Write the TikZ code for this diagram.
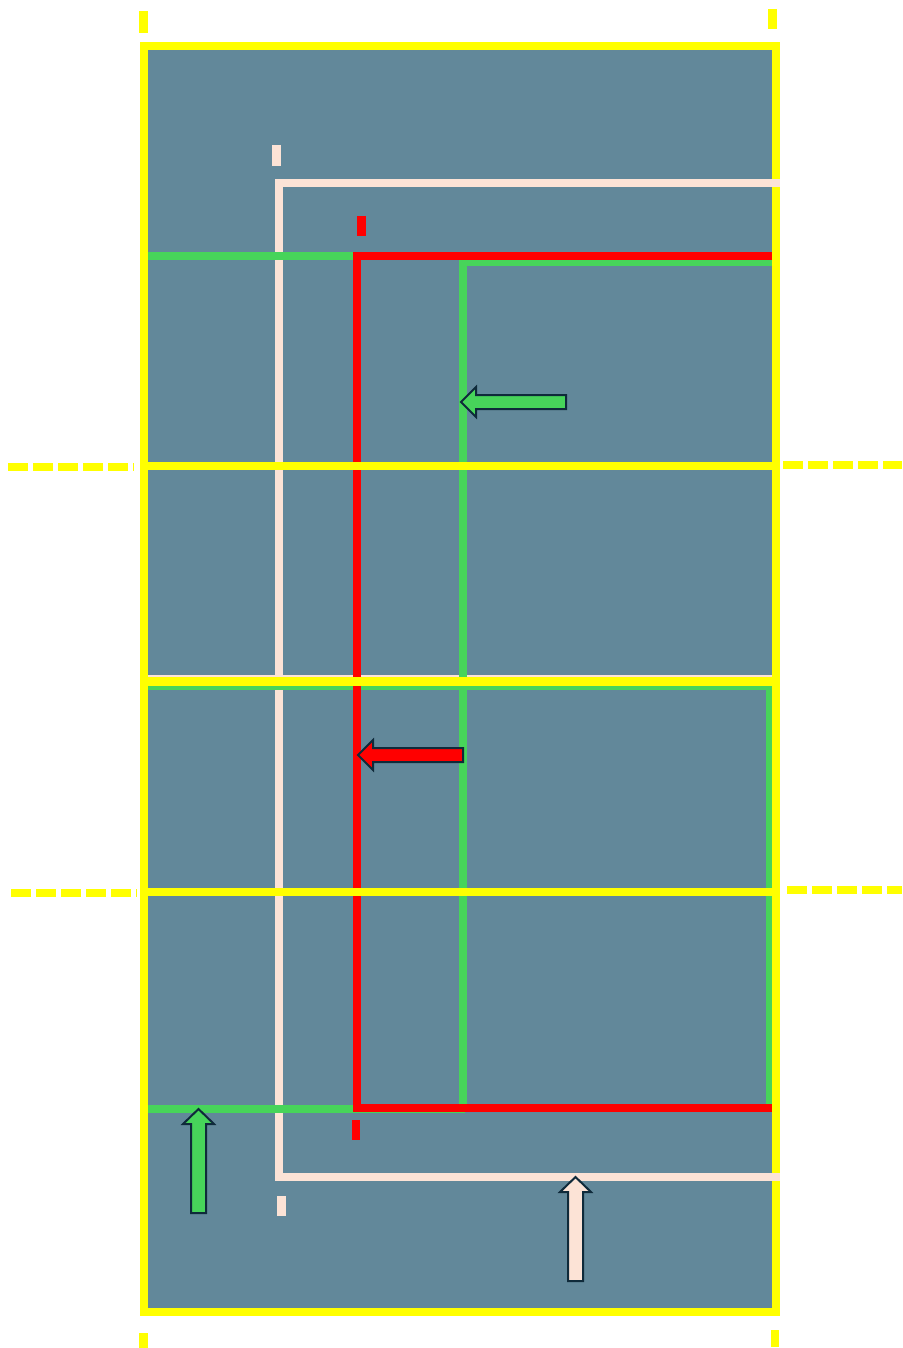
\documentclass[tikz,border=0pt]{standalone}
\definecolor{court}{HTML}{62889A}
\definecolor{lineyellow}{HTML}{FFFF00}
\definecolor{linegreen}{HTML}{47D45A}
\definecolor{linered}{HTML}{FF0000}
\definecolor{linepink}{HTML}{FCE3D6}
\definecolor{arrowedge}{HTML}{0F2A3A}
\tikzset{
    yline/.style={lineyellow, line width=8.5pt},
    ydash/.style={lineyellow, line width=8pt, dash pattern=on 20pt off 5pt},
    gline/.style={linegreen, line width=8pt},
    rline/.style={linered, line width=8.5pt},
    pline/.style={linepink, line width=8.5pt},
    blockarrow/.style={draw=arrowedge, line width=2pt, line join=miter},
}
\begin{document}
\begin{tikzpicture}[x=1pt,y=-1pt]
    \useasboundingbox (0,0) rectangle (902,1348);
    \fill[court] (144,46) rectangle (776,1312);

    % pink half court
    \draw[pline] (780,183) -- (279,183) -- (279,1177) -- (780,1177);
    \draw[pline] (148,679) -- (772,679);
    \draw[pline] (276.5,145) -- (276.5,166);
    \draw[pline] (281.5,1196) -- (281.5,1216);

    % green half court
    \draw[gline] (148,256) -- (356,256);
    \draw[gline] (772,262) -- (463,262) -- (463,1108);
    \draw[gline] (148,1109) -- (465,1109);
    \draw[gline] (148,686) -- (770,686) -- (770,1108);

    % red half court
    \draw[rline] (773,256) -- (357,256) -- (357,1108) -- (776,1108);
    \draw[linered, line width=3pt] (773,256) -- (773,1108);
    \draw[rline] (361.5,216) -- (361.5,236);
    \draw[rline] (356,1120) -- (356,1140);

    % yellow court and service lines
    \draw[yline] (144,46) rectangle (776,1312);
    \draw[yline] (144,466) -- (776,466);
    \draw[yline] (144,681.5) -- (776,681.5);
    \draw[yline] (144,892) -- (776,892);
    \draw[ydash] (8,467) -- (134,467);
    \draw[ydash] (783,465) -- (902,465);
    \draw[ydash] (11,893) -- (137,893);
    \draw[ydash] (787,890) -- (902,890);
    \draw[yline] (143.5,11) -- (143.5,33);
    \draw[yline] (772.5,9) -- (772.5,29);
    \draw[yline] (143.5,1333) -- (143.5,1348);
    \draw[yline] (775,1330) -- (775,1347);
    \draw[pline] (770,183) -- (780,183);
    \draw[pline] (770,1177) -- (780,1177);

    % arrows
    \foreach \x/\y/\t/\c in {461/402/566/linegreen, 358/755/463/linered}
        {\draw[blockarrow, fill=\c] (\x,\y) -- (\x+15,\y-15) -- (\x+15,\y-7)
            -- (\t,\y-7) -- (\t,\y+7) -- (\x+15,\y+7) -- (\x+15,\y+15) -- cycle;}
    \foreach \x/\y/\t/\c in {198.5/1109/1213/linegreen, 575.5/1177/1281/linepink}
        {\draw[blockarrow, fill=\c] (\x,\y) -- (\x-15.5,\y+15) -- (\x-7.5,\y+15)
            -- (\x-7.5,\t) -- (\x+7.5,\t) -- (\x+7.5,\y+15) -- (\x+15.5,\y+15) -- cycle;}
\end{tikzpicture}
\end{document}
